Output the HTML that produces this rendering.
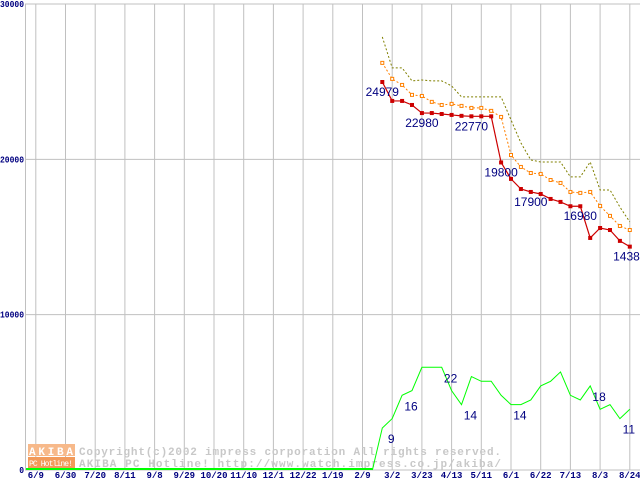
<!DOCTYPE html>
<html><head><meta charset="utf-8"><style>
body{margin:0;background:#fff}
svg{display:block;font-family:"Liberation Mono","DejaVu Sans Mono",monospace}
</style></head><body>
<svg id="chart" width="640" height="480" viewBox="0 0 640 480" xmlns="http://www.w3.org/2000/svg">
<g id="grid"></g>
<g id="wm">
<rect x="28" y="444" width="47" height="12" fill="#f7b98a"/>
<text x="51" y="455" font-size="11" fill="#fff" text-anchor="middle" font-weight="bold" textLength="44">AKIBA</text>
<rect x="28" y="457" width="47" height="11" fill="#f29a5a"/>
<text x="51" y="466" font-size="8" fill="#fff" text-anchor="middle" textLength="44">PC Hotline!</text>
<text x="79" y="455" font-size="11" fill="#c8c8c8" font-weight="bold" textLength="422">Copyright(c)2002 impress corporation All rights reserved.</text>
<text x="79" y="467" font-size="11" fill="#c8c8c8" font-weight="bold" textLength="422">AKIBA PC Hotline!  http://www.watch.impress.co.jp/akiba/</text>
</g>
<g id="series"></g>
<g id="labels"></g>
</svg>
<script>
const xTicks=["6/9","6/30","7/20","8/11","9/8","9/29","10/20","11/10","12/1","12/22","1/19","2/9","3/2","3/23","4/13","5/11","6/1","6/22","7/13","8/3","8/24"];
const yTicks=[0,10000,20000,30000];
const minPrice=[24979,23760,23760,23500,22980,22980,22920,22860,22800,22770,22770,22770,19800,18740,18090,17900,17770,17450,17260,16980,16980,14940,15580,15450,14750,14380];
const avgPrice=[26210,25180,24790,24150,24080,23700,23500,23570,23440,23310,23310,23120,22730,20280,19510,19120,19060,18670,18480,17900,17840,17900,17000,16360,15710,15450];
const maxPrice=[27880,25890,25890,25050,25110,25050,25050,24730,24020,24020,24020,24020,24020,22540,21060,19960,19830,19830,19830,18870,18870,19830,18030,18030,16930,15970];
const shopCount=[0,9,11,16,17,22,22,22,17,14,20,19,19,16,14,14,15,18,19,21,16,15,18,13,14,11,13];
const priceLabelIdx=[0,4,9,12,15,20,25];
const countLabels=[[1,9],[3,16],[7,22],[9,14],[14,14],[22,18],[25,11]];
const NS="http://www.w3.org/2000/svg";
const X=w=>382.3+w*9.9;
const Y=v=>470-v*0.015533;
const YC=c=>470-c*4.67;
function mk(tag,attrs,parent,text){const e=document.createElementNS(NS,tag);for(const k in attrs)e.setAttribute(k,attrs[k]);if(text!==undefined)e.textContent=text;parent.appendChild(e);return e;}
const grid=document.getElementById('grid'),ser=document.getElementById('series'),lab=document.getElementById('labels');
yTicks.forEach(v=>{
 const l=mk('line',{x1:25,x2:640,y1:Y(v),y2:Y(v),stroke:'#c0c0c0','stroke-width':1},grid);
 
 
 const s=String(v);
 const t=mk('text',{x:24,y:Y(v)+3,'font-size':9,fill:'#000080','text-anchor':'end','font-weight':'bold',textLength:s.length*4.8,lengthAdjust:'spacingAndGlyphs'},grid,s);
 
 
});
const ax=mk('line',{x1:25.5,x2:25.5,y1:4,y2:470,stroke:'#c0c0c0'},grid);


xTicks.forEach((s,i)=>{
 const w=25-(xTicks.length-1-i)*3;
 const l=mk('line',{x1:X(w),x2:X(w),y1:4,y2:470,stroke:'#c0c0c0'},grid);
 
 
 const t=mk('text',{x:X(w),y:478,'font-size':9,fill:'#000080','text-anchor':'middle','font-weight':'bold'},grid,s);
 
 
});
function pts(arr,fy,off){return arr.map((v,i)=>X(i+off)+','+fy(v)).join(' ');}
const gz=mk('line',{x1:26,x2:X(-1),y1:469,y2:469,stroke:'#00ff00','stroke-width':2},ser);


const g=mk('polyline',{points:pts(shopCount,YC,-1),fill:'none',stroke:'#00ff00','stroke-width':1},ser);


const mx=mk('polyline',{points:pts(maxPrice,Y,0),fill:'none',stroke:'#808000','stroke-width':1,'stroke-dasharray':'2,2'},ser);


const av=mk('polyline',{points:pts(avgPrice,Y,0),fill:'none',stroke:'#ff8000','stroke-width':1,'stroke-dasharray':'2,2'},ser);


avgPrice.forEach((v,i)=>{
 const r=mk('rect',{x:X(i)-1.5,y:Y(v)-1.5,width:3,height:3,fill:'#fff',stroke:'#ff8000','stroke-width':1},ser);
 
 
});
const mn=mk('polyline',{points:pts(minPrice,Y,0),fill:'none',stroke:'#cc0000','stroke-width':1.2},ser);


minPrice.forEach((v,i)=>{
 const r=mk('rect',{x:X(i)-2,y:Y(v)-2,width:4,height:4,fill:'#cc0000'},ser);
 
 
});
priceLabelIdx.forEach(i=>{
 const t=mk('text',{x:X(i),y:Y(minPrice[i])+14,'font-size':12,fill:'#000080','text-anchor':'middle','font-family':'Liberation Sans, sans-serif'},lab,String(minPrice[i]));
 
 
});
countLabels.forEach(([i,c])=>{
 const t=mk('text',{x:X(i)-1,y:YC(c)+15,'font-size':12,fill:'#000080','text-anchor':'middle','font-family':'Liberation Sans, sans-serif'},lab,String(c));
 
 
});
</script>
</body></html>
